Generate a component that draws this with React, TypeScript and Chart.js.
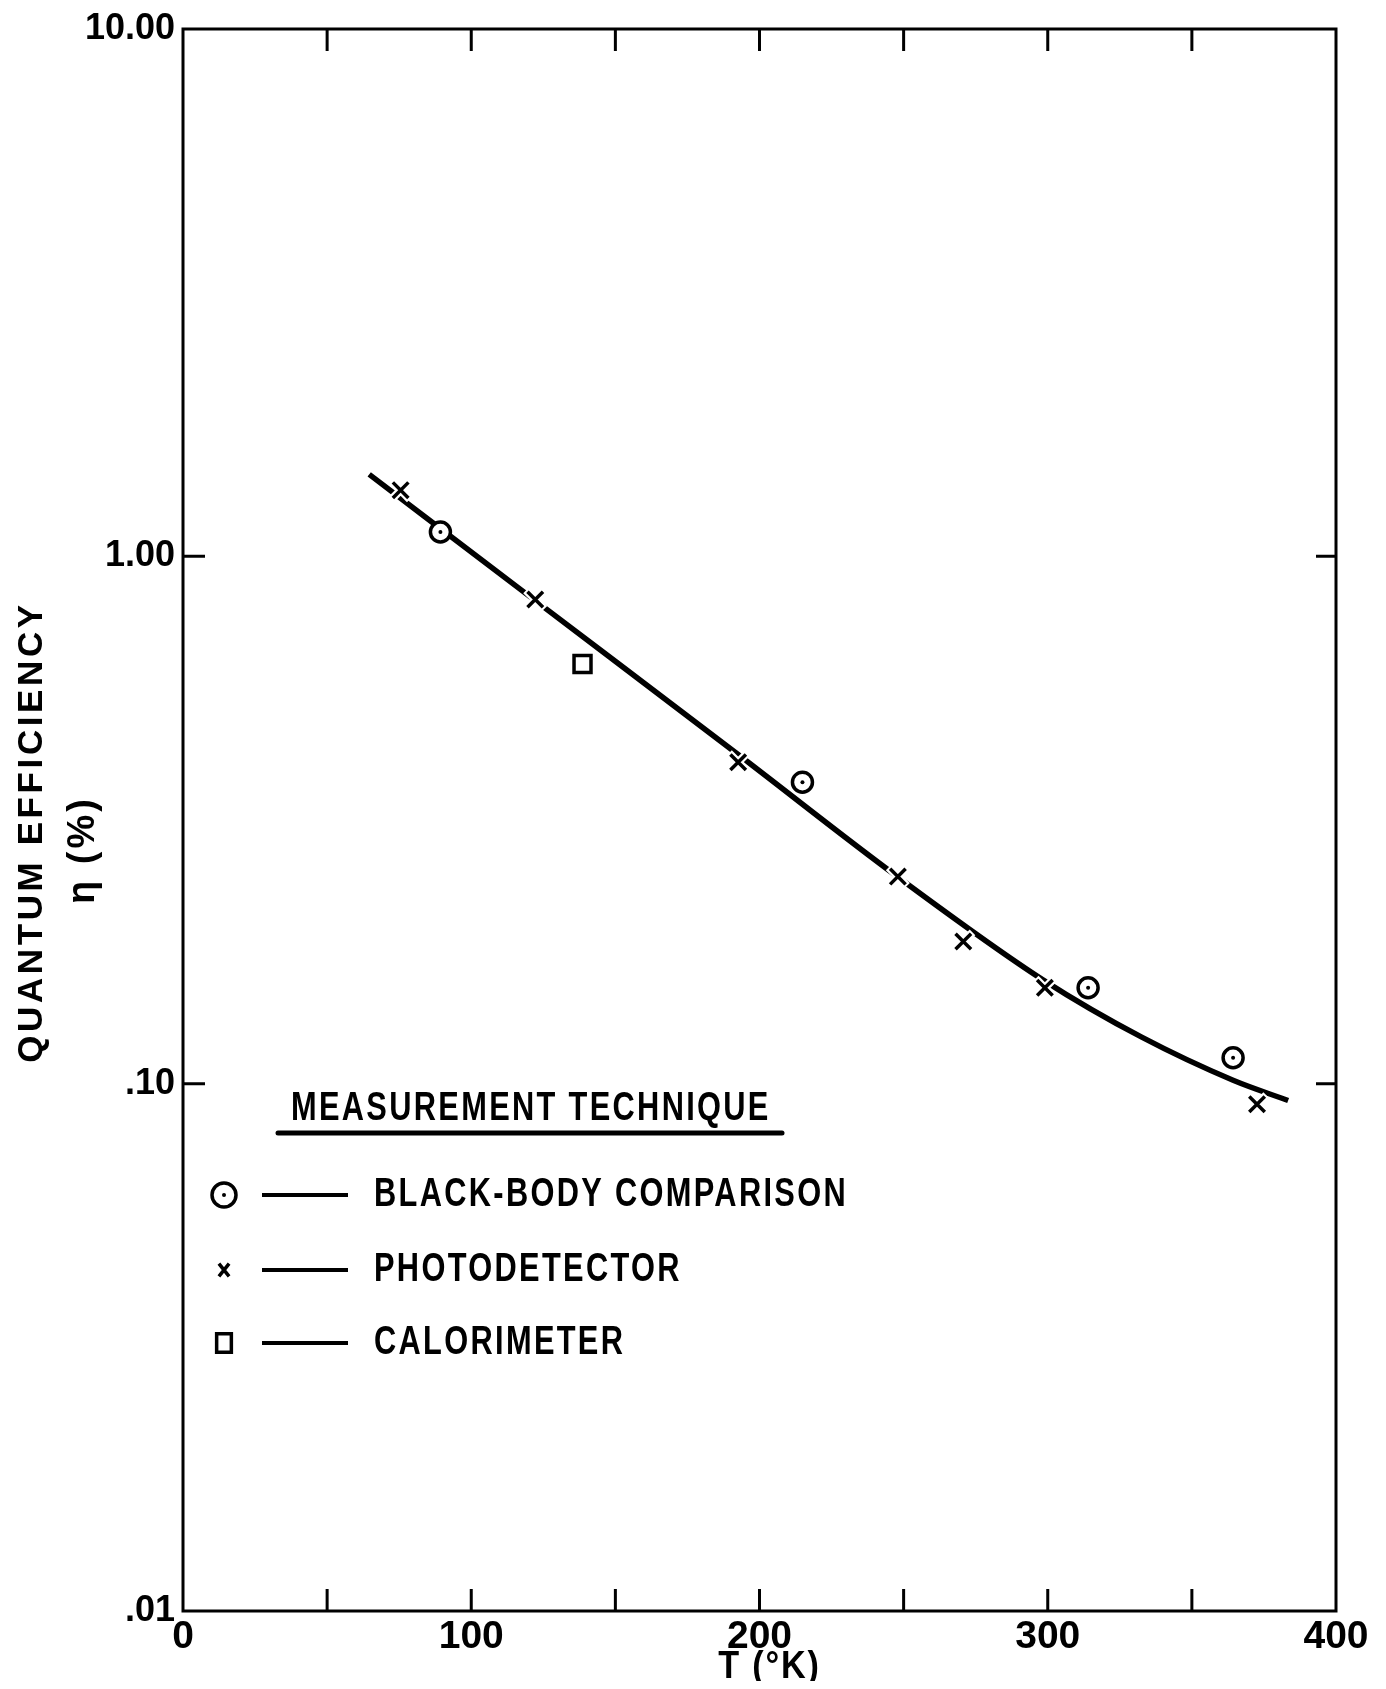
import React, { useEffect, useRef } from 'react';
import { Chart, registerables } from 'chart.js';

Chart.register(...registerables);

// Smooth fitted curve through the measurements (T in °K, η in %)
const curveT = [64.6, 122.2, 192.8, 247.8, 298.6, 332.6, 364.3, 383.4];
const curveEta = [1.43, 0.824, 0.42, 0.247, 0.157, 0.1225, 0.1015, 0.0929];

// Black-body comparison
const blackBodyT = [89.3, 214.9, 314.0, 364.3];
const blackBodyEta = [1.112, 0.373, 0.152, 0.112];

// Photodetector
const photoT = [75.5, 122.2, 192.6, 248.0, 270.7, 299.0, 372.6];
const photoEta = [1.335, 0.828, 0.407, 0.247, 0.186, 0.152, 0.0914];

// Calorimeter
const caloT = [138.6];
const caloEta = [0.625];

const xMin = 0;
const xMax = 400;
const xStep = 50;
const xLabelValues = [0, 100, 200, 300, 400];

const yTickValues = [0.01, 0.1, 1, 10];
const yTickLabels = ['.01', '.10', '1.00', '10.00'];
const yInnerTicks = [0.1, 1];

const xTitle = 'T (°K)';
const yTitle = 'QUANTUM EFFICIENCY';
const ySubTitle = 'η (%)';
const legendTitle = 'MEASUREMENT TECHNIQUE';

const toPoints = (xs: number[], ys: number[]) => xs.map((x, i) => ({ x, y: ys[i] }));

const SANS = '"Liberation Sans", Arial, sans-serif';

// text drawn with letter spacing and an optional horizontal squeeze (lettering look)
function letterText(
  ctx: CanvasRenderingContext2D,
  text: string,
  x: number,
  y: number,
  spacing: number,
  squeeze = 1,
) {
  ctx.save();
  ctx.translate(x, y);
  ctx.scale(squeeze, 1);
  (ctx as any).letterSpacing = `${spacing}px`;
  ctx.fillText(text, 0, 0);
  ctx.restore();
}

// legend marker in the same style as the dataset's point
function drawMarker(ctx: CanvasRenderingContext2D, style: string, x: number, y: number, r: number, lw: number, dot: boolean) {
  ctx.save();
  ctx.lineWidth = lw;
  ctx.strokeStyle = '#000';
  ctx.fillStyle = '#fff';
  ctx.beginPath();
  if (style === 'circle') {
    ctx.arc(x, y, r, 0, Math.PI * 2);
    ctx.fill();
    ctx.stroke();
    if (dot) {
      ctx.fillStyle = '#000';
      ctx.beginPath();
      ctx.arc(x, y, 2, 0, Math.PI * 2);
      ctx.fill();
    }
  } else if (style === 'crossRot') {
    const d = r * Math.SQRT1_2;
    ctx.moveTo(x - d * 0.8, y - d);
    ctx.lineTo(x + d * 0.8, y + d);
    ctx.moveTo(x + d * 0.8, y - d);
    ctx.lineTo(x - d * 0.8, y + d);
    ctx.stroke();
  } else {
    const s = r * Math.SQRT1_2;
    ctx.rect(x - s * 0.8, y - s, 1.6 * s, 2 * s);
    ctx.fill();
    ctx.stroke();
  }
  ctx.restore();
}

const framePlugin = {
  id: 'frameAndInnerTicks',
  beforeDatasetsDraw(chart: any) {
    const { ctx, chartArea: a, scales } = chart;
    const xs = scales.x;
    const ys = scales.y;
    ctx.save();
    ctx.strokeStyle = '#000';
    ctx.lineWidth = 3;
    ctx.lineCap = 'square';
    ctx.strokeRect(a.left, a.top, a.right - a.left, a.bottom - a.top);
    ctx.lineCap = 'butt';
    const tl = 22;
    for (let v = xMin + xStep; v < xMax; v += xStep) {
      const px = xs.getPixelForValue(v);
      ctx.beginPath();
      ctx.moveTo(px, a.bottom);
      ctx.lineTo(px, a.bottom - tl);
      ctx.moveTo(px, a.top);
      ctx.lineTo(px, a.top + tl);
      ctx.stroke();
    }
    for (const v of yInnerTicks) {
      const py = ys.getPixelForValue(v);
      ctx.beginPath();
      ctx.moveTo(a.left, py);
      ctx.lineTo(a.left + tl, py);
      ctx.moveTo(a.right, py);
      ctx.lineTo(a.right - 20, py);
      ctx.stroke();
    }
    ctx.restore();
  },
  afterDraw(chart: any) {
    const { ctx, chartArea: a } = chart;
    ctx.save();
    ctx.fillStyle = '#000';
    ctx.strokeStyle = '#000';

    // axis titles
    ctx.textAlign = 'center';
    ctx.textBaseline = 'middle';
    ctx.font = `bold 38px ${SANS}`;
    letterText(ctx, xTitle, (a.left + a.right) / 2 + 10, 1660, 2, 0.9);

    ctx.save();
    ctx.translate(24, 824);
    ctx.rotate(-Math.PI / 2);
    ctx.font = `bold 35px ${SANS}`;
    letterText(ctx, yTitle, 0, 0, 3.6);
    ctx.restore();

    ctx.save();
    ctx.translate(76, 842);
    ctx.rotate(-Math.PI / 2);
    ctx.font = `bold 38px ${SANS}`;
    letterText(ctx, ySubTitle, 0, 0, 3);
    ctx.restore();

    // legend block
    ctx.textAlign = 'left';
    ctx.textBaseline = 'middle';
    ctx.font = `bold 40px ${SANS}`;
    letterText(ctx, legendTitle, 283, 1101, 3, 0.77);
    ctx.lineWidth = 5;
    ctx.lineCap = 'round';
    ctx.beginPath();
    ctx.moveTo(270, 1125);
    ctx.lineTo(774, 1125);
    ctx.stroke();

    const rows = [
      { ds: chart.data.datasets[3], y: 1187, r: 12, dot: true },
      { ds: chart.data.datasets[2], y: 1262, r: 9, dot: false },
      { ds: chart.data.datasets[5], y: 1335, r: 13, dot: false },
    ];
    for (const row of rows) {
      const ds = row.ds;
      drawMarker(ctx, ds.pointStyle, 216, row.y, row.r, ds.borderWidth, row.dot);
      ctx.lineWidth = 4;
      ctx.lineCap = 'butt';
      ctx.strokeStyle = '#000';
      ctx.beginPath();
      ctx.moveTo(254, row.y);
      ctx.lineTo(340, row.y);
      ctx.stroke();
      ctx.fillStyle = '#000';
      letterText(ctx, ds.label, 366, row.y, 3, 0.77);
    }
    ctx.restore();
  },
};

export default function App() {
  const ref = useRef<HTMLCanvasElement | null>(null);

  useEffect(() => {
    if (!ref.current) return;
    const chart = new Chart(ref.current, {
      type: 'scatter',
      data: {
        datasets: [
          {
            type: 'line',
            label: 'fit',
            data: toPoints(curveT, curveEta),
            borderColor: '#000',
            borderWidth: 5.5,
            pointRadius: 0,
            cubicInterpolationMode: 'monotone',
            fill: false,
            order: 6,
          } as any,
          {
            label: 'photo-halo',
            data: toPoints(photoT, photoEta),
            pointStyle: 'crossRot',
            pointRadius: 13,
            borderWidth: 8,
            borderColor: '#fff',
            backgroundColor: '#fff',
            order: 5,
          },
          {
            label: 'PHOTODETECTOR',
            data: toPoints(photoT, photoEta),
            pointStyle: 'crossRot',
            pointRadius: 11,
            borderWidth: 3.5,
            borderColor: '#000',
            backgroundColor: '#000',
            order: 4,
          },
          {
            label: 'BLACK-BODY COMPARISON',
            data: toPoints(blackBodyT, blackBodyEta),
            pointStyle: 'circle',
            pointRadius: 10,
            borderWidth: 3.5,
            borderColor: '#000',
            backgroundColor: '#fff',
            order: 3,
          },
          {
            label: 'black-body-centre',
            data: toPoints(blackBodyT, blackBodyEta),
            pointStyle: 'circle',
            pointRadius: 2,
            borderWidth: 0,
            backgroundColor: '#000',
            order: 1,
          },
          {
            label: 'CALORIMETER',
            data: toPoints(caloT, caloEta),
            pointStyle: 'rect',
            pointRadius: 12,
            borderWidth: 3.5,
            borderColor: '#000',
            backgroundColor: '#fff',
            order: 2,
          },
        ],
      },
      options: {
        animation: false,
        responsive: false,
        maintainAspectRatio: false,
        layout: { padding: { left: 0, top: 16, right: 42, bottom: 0 } },
        plugins: {
          legend: { display: false },
          tooltip: { enabled: false },
        },
        scales: {
          x: {
            type: 'linear',
            min: xMin,
            max: xMax,
            grid: { display: false, drawTicks: false },
            border: { display: false },
            afterBuildTicks: (s: any) => {
              s.ticks = xLabelValues.map((v) => ({ value: v }));
            },
            afterFit: (s: any) => {
              s.height = 70;
              s.paddingLeft = 0;
              s.paddingRight = 0;
            },
            ticks: {
              autoSkip: false,
              maxRotation: 0,
              padding: 3,
              color: '#000',
              font: { family: SANS, size: 39, weight: 'bold' },
              callback: (v: any) => String(v),
            },
          },
          y: {
            type: 'logarithmic',
            min: yTickValues[0],
            max: yTickValues[yTickValues.length - 1],
            grid: { display: false, drawTicks: false },
            border: { display: false },
            afterBuildTicks: (s: any) => {
              s.ticks = yTickValues.map((v) => ({ value: v }));
            },
            afterFit: (s: any) => {
              s.width = 175;
              s.paddingTop = 0;
              s.paddingBottom = 0;
            },
            ticks: {
              autoSkip: false,
              padding: 8,
              color: '#000',
              font: { family: SANS, size: 36, weight: 'bold' },
              callback: (_v: any, i: number) => yTickLabels[i],
            },
          },
        },
      } as any,
      plugins: [framePlugin],
    });
    return () => chart.destroy();
  }, []);

  return (
    <div style={{ width: 1370, height: 1673, background: '#fff' }}>
      <canvas ref={ref} width={1370} height={1673} style={{ display: 'block' }} />
    </div>
  );
}
